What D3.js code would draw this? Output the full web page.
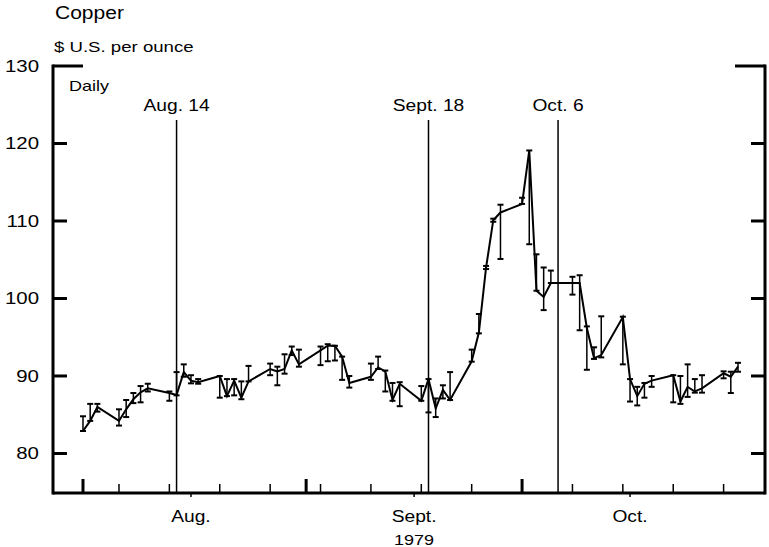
<!DOCTYPE html>
<html>
<head>
<meta charset="utf-8">
<script src="https://cdn.jsdelivr.net/npm/d3@7"></script>
<style>
  body { margin: 0; background: #fff; }
  svg text { font-family: Arial, "Liberation Sans", sans-serif; fill: #000; }
</style>
</head>
<body>
<svg></svg>
<script>
// daily copper quotes, Aug - Oct 1979
const dates = ['1979-08-01','1979-08-02','1979-08-03','1979-08-06','1979-08-07','1979-08-08','1979-08-09','1979-08-10',
  '1979-08-13','1979-08-14','1979-08-15','1979-08-16','1979-08-17','1979-08-20','1979-08-21','1979-08-22','1979-08-23','1979-08-24',
  '1979-08-27','1979-08-28','1979-08-29','1979-08-30','1979-08-31','1979-09-03','1979-09-04','1979-09-05','1979-09-06','1979-09-07',
  '1979-09-10','1979-09-11','1979-09-12','1979-09-13','1979-09-14','1979-09-17','1979-09-18','1979-09-19','1979-09-20','1979-09-21',
  '1979-09-24','1979-09-25','1979-09-26','1979-09-27','1979-09-28','1979-10-01','1979-10-02','1979-10-03','1979-10-04','1979-10-05',
  '1979-10-08','1979-10-09','1979-10-10','1979-10-11','1979-10-12','1979-10-15','1979-10-16','1979-10-17','1979-10-18','1979-10-19',
  '1979-10-22','1979-10-23','1979-10-24','1979-10-25','1979-10-26','1979-10-29','1979-10-30','1979-10-31'];
const closes = [82.9,84.2,86.0,84.2,85.7,87.0,87.9,88.4,
  87.8,87.55,90.5,89.4,89.2,90.0,87.4,89.4,87.2,89.3,
  90.9,90.6,90.9,93.3,91.5,93.3,93.9,93.9,92.5,89.1,
  89.9,91.1,90.6,86.9,89.0,86.8,89.6,85.8,88.2,86.9,
  91.9,95.6,104.0,110.1,111.1,112.2,119.1,101.0,100.2,102.0,
  102.0,102.0,96.2,92.3,92.7,97.6,89.6,87.4,89.0,89.4,
  90.1,86.7,88.6,88.0,88.4,90.35,89.9,91.2];
const highs = [84.8,86.4,86.4,85.7,86.9,87.8,88.7,89.0,
  88.0,90.5,91.5,90.1,89.6,90.0,89.6,89.6,89.3,91.3,
  91.6,91.2,92.8,93.8,93.4,93.8,94.1,93.9,92.5,90.0,
  91.6,92.5,90.7,89.1,89.2,88.7,89.6,87.1,88.8,90.5,
  93.4,98.0,104.2,110.3,112.1,113.0,119.1,105.7,104.0,103.6,
  102.8,103.0,96.4,93.7,97.7,97.65,89.6,88.6,89.1,90.0,
  90.1,90.0,91.5,89.6,90.1,90.6,90.55,91.7];
const lows = [82.9,84.2,85.4,83.6,84.7,86.5,86.6,88.0,
  86.8,87.5,89.9,89.05,89.0,87.2,87.4,87.5,87.0,89.3,
  90.1,88.8,90.3,92.7,91.2,91.4,91.9,92.0,89.5,88.5,
  89.5,90.9,88.0,86.8,86.1,86.8,85.3,84.7,87.1,86.9,
  91.85,95.5,103.8,109.9,105.1,112.2,107.0,101.0,98.5,102.0,
  100.5,95.9,90.8,92.2,92.4,91.5,86.7,86.2,87.2,88.6,
  86.6,86.4,87.3,87.85,87.85,89.7,87.8,90.55];

const yTicks = [80, 90, 100, 110, 120, 130];
const events = [{date: '1979-08-14', label: 'Aug. 14'}, {date: '1979-09-18', label: 'Sept. 18'}, {date: '1979-10-06', label: 'Oct. 6'}];
const months = [{date: '1979-08-16', label: 'Aug.'}, {date: '1979-09-16', label: 'Sept.'}, {date: '1979-10-16', label: 'Oct.'}];

const size = {w: 769, h: 547};
const plot = {l: 53, r: 765, t: 66, b: 493};
const stretch = 1.2;   // the original type is a bit wider than Arial
const parse = d3.utcParse('%Y-%m-%d');

const data = dates.map((d, i) => ({date: parse(d), close: closes[i], high: highs[i], low: lows[i]}));

const svg = d3.select('svg').attr('width', size.w).attr('height', size.h);

let x = d3.scaleUtc()
  .domain([Date.UTC(1979, 6, 27, 20), Date.UTC(1979, 10, 3, 18)])
  .range([plot.l, plot.r]);
let y = d3.scaleLinear()
  .domain([74.9, 130])
  .range([plot.b, plot.t]);

// titles
svg.append('text').attr('x', 55).attr('y', 19).attr('font-size', 17.5).text('Copper');
svg.append('text').attr('x', 54).attr('y', 52).attr('font-size', 15.5).text('$ U.S. per ounce');
svg.append('text').attr('x', 69).attr('y', 91).attr('font-size', 15).text('Daily');

// y tick labels
svg.selectAll('.ylab').data(yTicks).enter().append('text')
  .attr('x', 39).attr('y', d => y(d) + 6)
  .attr('text-anchor', 'end').attr('font-size', 17)
  .text(d => d);

// event lines
let ev = svg.append('g');
ev.selectAll('line').data(events).enter().append('line')
  .attr('x1', d => x(parse(d.date))).attr('x2', d => x(parse(d.date)))
  .attr('y1', 120).attr('y2', plot.b)
  .attr('stroke', '#000').attr('stroke-width', 1.5);
ev.selectAll('text').data(events).enter().append('text')
  .attr('x', d => x(parse(d.date))).attr('y', 111)
  .attr('text-anchor', 'middle').attr('font-size', 16)
  .text(d => d.label);

// frame: left, right and bottom axes
let frame = svg.append('g').attr('stroke', '#000');
frame.append('line').attr('x1', plot.l).attr('x2', plot.l).attr('y1', plot.t - 1.5).attr('y2', plot.b + 1.5).attr('stroke-width', 3);
frame.append('line').attr('x1', plot.r).attr('x2', plot.r).attr('y1', plot.t - 1.5).attr('y2', plot.b + 1.5).attr('stroke-width', 3);
frame.append('line').attr('x1', plot.l).attr('x2', plot.r).attr('y1', plot.b).attr('y2', plot.b).attr('stroke-width', 3);

// y ticks on both sides, the top one longer
frame.selectAll('.tl').data(yTicks).enter().append('line')
  .attr('x1', plot.l).attr('x2', d => plot.l + (d === 130 ? 30 : 14))
  .attr('y1', d => y(d)).attr('y2', d => y(d)).attr('stroke-width', 3);
frame.selectAll('.tr').data(yTicks).enter().append('line')
  .attr('x1', plot.r).attr('x2', d => plot.r - (d === 130 ? 30 : 14))
  .attr('y1', d => y(d)).attr('y2', d => y(d)).attr('stroke-width', 3);

// x ticks: weekly (mondays), month starts taller, mid month below the axis
let weeks = d3.utcMonday.range(Date.UTC(1979, 7, 2), Date.UTC(1979, 10, 3));
frame.selectAll('.wk').data(weeks).enter().append('line')
  .attr('x1', d => x(d)).attr('x2', d => x(d))
  .attr('y1', plot.b).attr('y2', plot.b - 9).attr('stroke-width', 1.5);
let monthStarts = d3.utcMonth.range(Date.UTC(1979, 7, 1), Date.UTC(1979, 10, 1));
frame.selectAll('.ms').data(monthStarts).enter().append('line')
  .attr('x1', d => x(d)).attr('x2', d => x(d))
  .attr('y1', plot.b).attr('y2', plot.b - 14).attr('stroke-width', 3);
frame.selectAll('.mm').data(months).enter().append('line')
  .attr('x1', d => x(parse(d.date))).attr('x2', d => x(parse(d.date)))
  .attr('y1', plot.b).attr('y2', plot.b + 4).attr('stroke-width', 1.5);

svg.selectAll('.mlab').data(months).enter().append('text')
  .attr('x', d => x(parse(d.date))).attr('y', 522)
  .attr('text-anchor', 'middle').attr('font-size', 16)
  .text(d => d.label);
svg.append('text').attr('x', x(parse('1979-09-16'))).attr('y', 545)
  .attr('text-anchor', 'middle').attr('font-size', 15).text('1979');

// widen the lettering like the original
svg.selectAll('text').each(function () {
  let w = this.getComputedTextLength();
  d3.select(this).attr('textLength', w * stretch).attr('lengthAdjust', 'spacingAndGlyphs');
});

// high-low bars
let bars = svg.append('g').attr('stroke', '#000').attr('stroke-width', 1.5);
bars.selectAll('.hl').data(data).enter().append('line')
  .attr('x1', d => x(d.date)).attr('x2', d => x(d.date))
  .attr('y1', d => y(d.high)).attr('y2', d => y(d.low));
bars.selectAll('.hc').data(data).enter().append('line')
  .attr('x1', d => x(d.date) - 3).attr('x2', d => x(d.date) + 3)
  .attr('y1', d => y(d.high)).attr('y2', d => y(d.high)).attr('stroke-width', 2);
bars.selectAll('.lc').data(data).enter().append('line')
  .attr('x1', d => x(d.date) - 3).attr('x2', d => x(d.date) + 3)
  .attr('y1', d => y(d.low)).attr('y2', d => y(d.low)).attr('stroke-width', 2);

// closing line
let line = d3.line().x(d => x(d.date)).y(d => y(d.close));
svg.append('path').datum(data)
  .attr('d', line)
  .attr('fill', 'none').attr('stroke', '#000').attr('stroke-width', 2);
</script>
</body>
</html>
